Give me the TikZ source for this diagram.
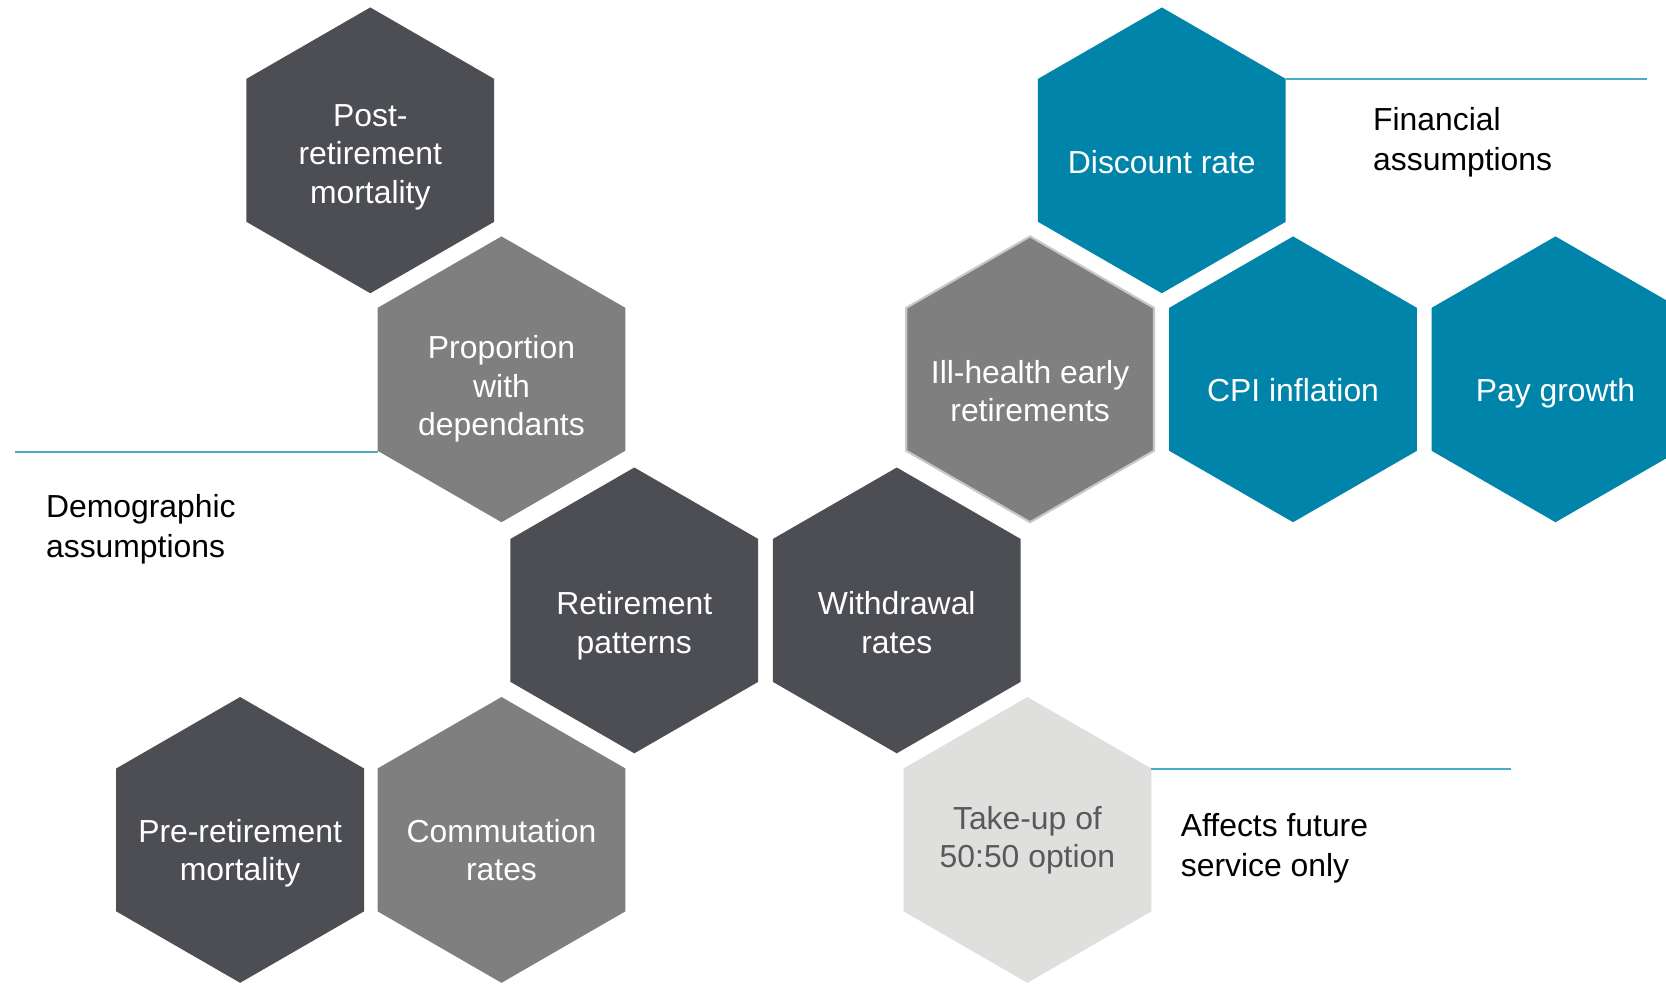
\documentclass[tikz,border=0pt]{standalone}
\usepackage{fontspec}
\setmainfont{Liberation Sans}
\definecolor{hexdark}{HTML}{4D4E53}
\definecolor{hexgray}{HTML}{7F7F7F}
\definecolor{hexteal}{HTML}{0084AA}
\definecolor{hexlight}{HTML}{DFDFDE}
\definecolor{hexlighttext}{HTML}{595959}
\definecolor{hexborder}{HTML}{C8C8C8}
\definecolor{rulecol}{HTML}{4BACC6}
\newcommand{\hexcell}[4]{% x, y, fill style, extra
  \path[#3] (#1+116.6,#2-67.25) -- (#1,#2-134.5) -- (#1-116.6,#2-67.25) -- (#1-116.6,#2+67.25) -- (#1,#2+134.5) -- (#1+116.6,#2+67.25) -- cycle;}
\begin{document}
\begin{tikzpicture}[x=0.5pt,y=-0.5pt,
  hextext/.style={font=\fontsize{15}{18}\selectfont, text=white, align=center, inner sep=0pt},
  lbl/.style={font=\fontsize{15}{18.8}\selectfont, text=black, align=left, inner sep=0pt, anchor=west},
  rulel/.style={draw=rulecol, line width=1pt},
  fdark/.style={fill=hexdark},
  fgray/.style={fill=hexgray},
  fteal/.style={fill=hexteal},
  flight/.style={fill=hexlight},
  fbord/.style={fill=hexgray, draw=hexborder, line width=1pt}]
\useasboundingbox (0,0) rectangle (1568,926);
\clip (0,0) rectangle (1568,926);
% hexagons
\hexcell{348.5}{141.5}{fdark}{}
\hexcell{472}{357}{fgray}{}
\hexcell{597}{574.5}{fdark}{}
\hexcell{844}{574.5}{fdark}{}
\hexcell{226}{790.5}{fdark}{}
\hexcell{472}{790.5}{fgray}{}
\hexcell{967}{790.5}{flight}{}
\hexcell{969.5}{357}{fbord}{}
\hexcell{1093.5}{141.5}{fteal}{}
\hexcell{1217}{357}{fteal}{}
\hexcell{1464}{357}{fteal}{}
% texts
\node[hextext] (post) at (348.5,148) {Post-\\retirement\\mortality};
\node[hextext] (prop) at (472,366) {Proportion\\with\\dependants};
\node[hextext] (retp) at (597,589) {Retirement\\patterns};
\node[hextext] (withd) at (844,586) {Withdrawal\\rates};
\node[hextext] (prem) at (226,803) {Pre-retirement\\mortality};
\node[hextext] (comm) at (472,800) {Commutation\\rates};
\node[hextext, text=hexlighttext] (takeup) at (967,791) {Take-up of\\50:50 option};
\node[hextext] (illh) at (969.5,368) {Ill-health early\\retirements};
\node[hextext] (disc) at (1093.5,153) {Discount rate};
\node[hextext] (cpi) at (1217,367) {CPI inflation};
\node[hextext] (pay) at (1464,370) {Pay growth};
% labels and rules
\coordinate (demA) at (14,425);
\coordinate (demB) at (355.4,425);
\draw[rulel] (demA) -- (demB);
\node[lbl] (demo) at (43,498) {Demographic\\assumptions};
\coordinate (finA) at (1210,74);
\coordinate (finB) at (1550,74);
\draw[rulel] (finA) -- (finB);
\node[lbl] (fin) at (1292,134) {Financial\\assumptions};
\coordinate (affA) at (1083.6,723.5);
\coordinate (affB) at (1422,723.5);
\draw[rulel] (affA) -- (affB);
\node[lbl] (aff) at (1111,798) {Affects future\\service only};
\end{tikzpicture}
\end{document}
